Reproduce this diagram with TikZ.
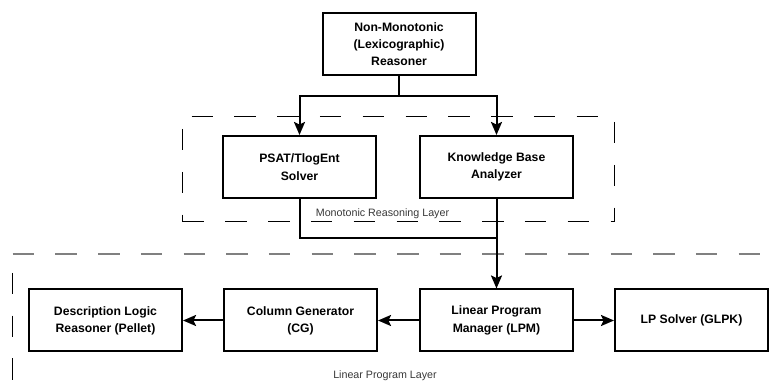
\documentclass[tikz,border=0pt]{standalone}
\usepackage{fontspec}
\setmainfont{Liberation Sans}
\usetikzlibrary{arrows.meta}
\tikzset{
  box/.style={draw, line width=2pt, minimum width=153pt, minimum height=62pt, inner sep=0pt, align=center,
    font=\fontsize{12.2}{17.3}\selectfont\bfseries},
  conn/.style={line width=2pt},
  arr/.style={line width=2pt, -{Stealth[length=13pt,width=11pt,inset=2.5pt]}},
  layerlbl/.style={font=\fontsize{10.7}{12}\selectfont, text=black!78, inner sep=0pt},
  mdash/.style={line width=1pt, dash pattern=on 21.5pt off 21.3pt},
  gdash/.style={line width=1.7pt, draw=black!50, dash pattern=on 21.5pt off 21.2pt}
}
\begin{document}
\begin{tikzpicture}[x=1pt,y=-1pt]
\useasboundingbox (0,0) rectangle (780,390);
% Monotonic layer dashed frame
\draw[mdash, dash phase=33.8pt] (182.5,117) -- (614.3,117);
\draw[mdash, dash phase=37.8pt] (614.3,117) -- (614.3,222);
\draw[mdash, dash phase=0pt] (182.5,222) -- (614.3,222);
\draw[mdash, dash phase=30.8pt] (182.5,117) -- (182.5,222);
\node[layerlbl] (mlabel) at (382.5,214) {Monotonic Reasoning Layer};
% Linear program layer separator
\draw[gdash] (12.7,254) -- (780,254);
\draw[mdash, dash phase=32pt] (12.7,262) -- (12.7,390);
\node[layerlbl] (llabel) at (385,376) {Linear Program Layer};
% Boxes
\node[box] (top) at (399,44) {Non-Monotonic\\(Lexicographic)\\Reasoner};
\node[box] (psat) at (299.5,167) {PSAT/TlogEnt\\Solver};
\node[box] (kb) at (496.5,167) {Knowledge Base\\Analyzer};
\node[box] (dl) at (105.5,320.5) {Description Logic\\Reasoner (Pellet)};
\node[box] (cg) at (300.5,320.5) {Column Generator\\(CG)};
\node[box] (lpm) at (496.5,320.5) {Linear Program\\Manager (LPM)};
\node[box] (lps) at (691.5,320.5) {LP Solver (GLPK)};
% Connectors
\coordinate (split) at (399,96);
\coordinate (join) at (496.5,238);
\draw[conn] (top.south) -- (split);
\draw[arr] (split) -| (psat.north);
\draw[arr] (split) -| (kb.north);
\draw[conn] (psat.south) |- (join);
\draw[arr] (kb.south) -- (lpm.north);
\draw[arr] (lpm.west) -- (cg.east);
\draw[arr] (cg.west) -- (dl.east);
\draw[arr] (lpm.east) -- (lps.west);
\end{tikzpicture}
\end{document}
